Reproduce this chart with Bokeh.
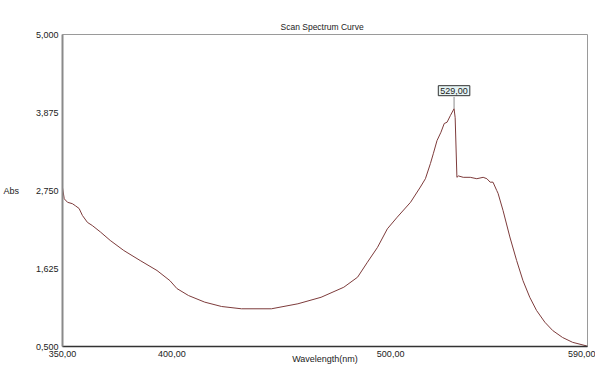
from bokeh.plotting import figure
from bokeh.models import Range1d, FixedTicker, Label, ColumnDataSource
from bokeh.embed import file_html
from bokeh.resources import INLINE

# Data
wavelength = [350.0, 350.8, 352.3, 354.5, 355.9, 357.6, 359.1, 361.4, 363.6, 367.4,
              371.8, 378.0, 385.5, 393.2, 399.1, 402.3, 407.6, 415.0, 422.7, 431.8,
              445.5, 457.6, 468.2, 478.6, 484.9, 489.4, 494.0, 498.5, 503.0, 509.1,
              513.6, 515.9, 518.2, 519.5, 521.2, 523.0, 524.5, 525.8, 527.3, 529.0,
              529.5, 530.3, 531.0, 533.2, 536.4, 539.4, 542.3, 544.0, 545.5, 546.8,
              548.5, 549.1, 551.4, 554.5, 557.6, 560.5, 563.6, 566.7, 570.5, 574.1,
              578.6, 583.2, 589.4, 590.0]
absorbance = [2.79, 2.63, 2.58, 2.56, 2.53, 2.49, 2.39, 2.29, 2.245, 2.15,
              2.03, 1.885, 1.74, 1.596, 1.45, 1.336, 1.235, 1.14, 1.077, 1.044,
              1.044, 1.116, 1.21, 1.355, 1.50, 1.716, 1.93, 2.197, 2.365, 2.58,
              2.80, 2.92, 3.14, 3.28, 3.47, 3.59, 3.716, 3.735, 3.83, 3.93,
              3.80, 2.94, 2.96, 2.94, 2.94, 2.92, 2.94, 2.92, 2.87, 2.87,
              2.75, 2.71, 2.46, 2.08, 1.74, 1.45, 1.21, 1.02, 0.85, 0.73,
              0.63, 0.56, 0.51, 0.50]

x_ticks = [350, 400, 500, 590]
x_tick_labels = ["350,00", "400,00", "500,00", "590,00"]
y_ticks = [0.5, 1.625, 2.75, 3.875, 5.0]
y_tick_labels = ["0,500", "1,625", "2,750", "3,875", "5,000"]
title_text = "Scan Spectrum Curve"
x_title = "Wavelength(nm)"
y_title = "Abs"
peak_text = "529,00"

FONT = "Liberation Sans"
TXT = "#222222"

p = figure(width=595, height=369, output_backend="svg", toolbar_location=None,
           x_range=Range1d(350, 590), y_range=Range1d(0.5, 5.0),
           min_border_left=59, min_border_top=34, min_border_right=8, min_border_bottom=23,
           title=title_text)
p.background_fill_color = "white"
p.border_fill_color = "white"
p.outline_line_color = "#9a9a9a"
p.outline_line_width = 1
p.xgrid.visible = False
p.ygrid.visible = False

p.title.align = "left"
p.title.offset = 218
p.title.standoff = 6
p.title.text_font = FONT
p.title.text_font_size = "8.5px"
p.title.text_font_style = "normal"
p.title.text_color = TXT

for ax in (p.xaxis[0], p.yaxis[0]):
    ax.major_tick_in = 0
    ax.major_tick_out = 0
    ax.minor_tick_in = 0
    ax.minor_tick_out = 0
    ax.major_label_text_font = FONT
    ax.major_label_text_font_size = "9px"
    ax.major_label_text_color = TXT
    ax.axis_label_text_font = FONT
    ax.axis_label_text_font_size = "9px"
    ax.axis_label_text_font_style = "normal"
    ax.axis_label_text_color = TXT

p.xaxis[0].ticker = FixedTicker(ticks=x_ticks)
p.xaxis[0].major_label_overrides = dict(zip(x_ticks, x_tick_labels))
p.xaxis[0].axis_line_color = "#333333"
p.xaxis[0].axis_line_width = 1.5
p.xaxis[0].major_label_standoff = 4
p.xaxis[0].axis_label = x_title
p.xaxis[0].axis_label_standoff = -6

p.yaxis[0].ticker = FixedTicker(ticks=y_ticks)
p.yaxis[0].major_label_overrides = dict(zip(y_ticks, y_tick_labels))
p.yaxis[0].axis_line_color = "#8a8a8a"
p.yaxis[0].axis_line_width = 2
p.yaxis[0].major_label_standoff = 4
p.yaxis[0].axis_label = y_title
p.yaxis[0].axis_label_orientation = "horizontal"
p.yaxis[0].axis_label_standoff = 14
p.yaxis[0].axis_label_text_baseline = "top"

src = ColumnDataSource(dict(x=wavelength, y=absorbance))
p.line("x", "y", source=src, line_color="#7d3b3b", line_width=1)

# Peak marker
i_peak = max(range(len(absorbance)), key=lambda i: absorbance[i])
px, py = wavelength[i_peak], absorbance[i_peak]
p.segment(x0=[px], y0=[py], x1=[px], y1=[py + 0.17], line_color="#8a8a8a", line_width=1)
p.add_layout(Label(x=px, y=py, y_offset=18, text=peak_text, text_align="center",
                   text_baseline="middle", text_font=FONT, text_font_size="9px",
                   text_color=TXT, background_fill_color="#e6f4f4",
                   border_line_color="#333333", border_line_width=1, padding=2))

open("out.html", "w").write(file_html(p, INLINE))
